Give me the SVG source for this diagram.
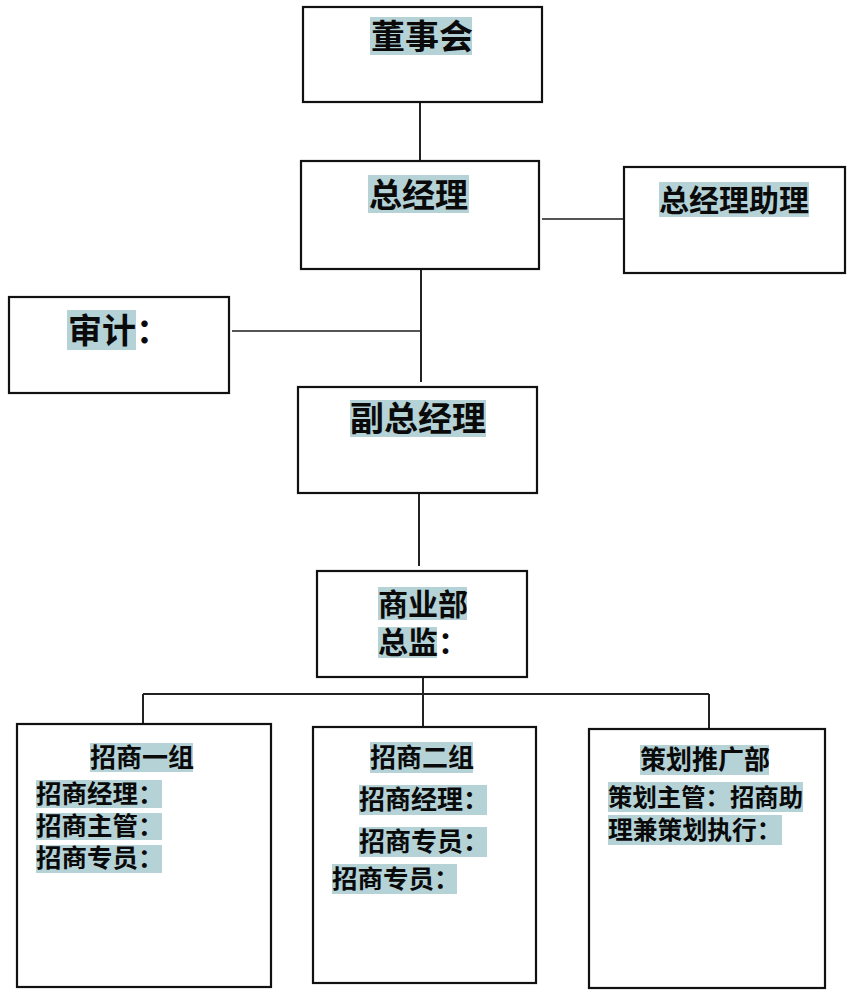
<svg xmlns="http://www.w3.org/2000/svg" width="864" height="994" viewBox="0 0 864 994">
<style>
.box{fill:#ffffff;stroke:#111;stroke-width:2.2}
.hl{fill:#b5d2d7}
.t{font-family:"Noto Sans CJK SC","Noto Sans",sans-serif;font-weight:bold;fill:#0a0a0a}
.c{stroke:#222;stroke-width:2;fill:none}
.cg{stroke:#555;stroke-width:2;fill:none}
</style>
<rect width="864" height="994" fill="#ffffff"/>
<g id="connectors">
<line class="c" x1="420" y1="102" x2="420" y2="161"/>
<line class="cg" x1="542" y1="219" x2="624" y2="219"/>
<line class="c" x1="421" y1="270" x2="421" y2="382"/>
<line class="cg" x1="232" y1="331" x2="420" y2="331"/>
<line class="c" x1="419" y1="493" x2="419" y2="566"/>
<line class="c" x1="423" y1="677" x2="423" y2="694"/>
<line class="c" x1="143" y1="694" x2="709" y2="694"/>
<line class="c" x1="143" y1="694" x2="143" y2="724"/>
<line class="c" x1="423" y1="694" x2="423" y2="727"/>
<line class="c" x1="709" y1="694" x2="709" y2="729"/>
</g>
<g id="n1">
<rect class="box" x="303" y="7" width="239" height="95"/>
<rect class="hl" x="370" y="17" width="102" height="38"/>
<text class="t" x="371" y="49" font-size="34">董事会</text>
</g>
<g id="n2">
<rect class="box" x="301" y="161" width="238" height="108"/>
<rect class="hl" x="368" y="175" width="101" height="38"/>
<text class="t" x="369" y="207" font-size="33">总经理</text>
</g>
<g id="n3">
<rect class="box" x="624" y="167" width="221" height="106"/>
<rect class="hl" x="659" y="182" width="150" height="35"/>
<text class="t" x="659" y="211" font-size="30">总经理助理</text>
</g>
<g id="n4">
<rect class="box" x="9" y="297" width="220" height="96"/>
<rect class="hl" x="67" y="310" width="69" height="40"/>
<text class="t" x="68" y="343" font-size="34">审计：</text>
</g>
<g id="n5">
<rect class="box" x="298" y="387" width="239" height="106"/>
<rect class="hl" x="350" y="400" width="136" height="37"/>
<text class="t" x="350" y="431" font-size="34">副总经理</text>
</g>
<g id="n6">
<rect class="box" x="317" y="571" width="210" height="106"/>
<rect class="hl" x="378" y="587" width="89" height="33"/>
<text class="t" x="378" y="615" font-size="30">商业部</text>
<rect class="hl" x="378" y="627" width="59" height="31"/>
<text class="t" x="378" y="653" font-size="30">总监：</text>
</g>
<g id="n7">
<rect class="box" x="17" y="724" width="254" height="263"/>
<rect class="hl" x="90" y="743" width="103" height="29"/>
<text class="t" x="90" y="767" font-size="26">招商一组</text>
<rect class="hl" x="36" y="780" width="126" height="28"/>
<text class="t" x="36" y="803" font-size="25.5">招商经理：</text>
<rect class="hl" x="36" y="813" width="126" height="27"/>
<text class="t" x="36" y="835" font-size="25.5">招商主管：</text>
<rect class="hl" x="36" y="845" width="126" height="28"/>
<text class="t" x="36" y="867" font-size="25.5">招商专员：</text>
</g>
<g id="n8">
<rect class="box" x="313" y="727" width="223" height="256"/>
<rect class="hl" x="370" y="742" width="103" height="31"/>
<text class="t" x="370" y="767" font-size="26">招商二组</text>
<rect class="hl" x="359" y="785" width="128" height="30"/>
<text class="t" x="359" y="809" font-size="26">招商经理：</text>
<rect class="hl" x="359" y="827" width="128" height="30"/>
<text class="t" x="359" y="851" font-size="26">招商专员：</text>
<rect class="hl" x="332" y="864" width="125" height="30"/>
<text class="t" x="332" y="888" font-size="25.5">招商专员：</text>
</g>
<g id="n9">
<rect class="box" x="589" y="729" width="236" height="259"/>
<rect class="hl" x="640" y="745" width="129" height="30"/>
<text class="t" x="640" y="769" font-size="26">策划推广部</text>
<rect class="hl" x="608" y="782" width="195" height="30"/>
<text class="t" x="608" y="806" font-size="24.4">策划主管：招商助</text>
<rect class="hl" x="608" y="815" width="174" height="30"/>
<text class="t" x="608" y="839" font-size="24.8">理兼策划执行：</text>
</g>
</svg>
